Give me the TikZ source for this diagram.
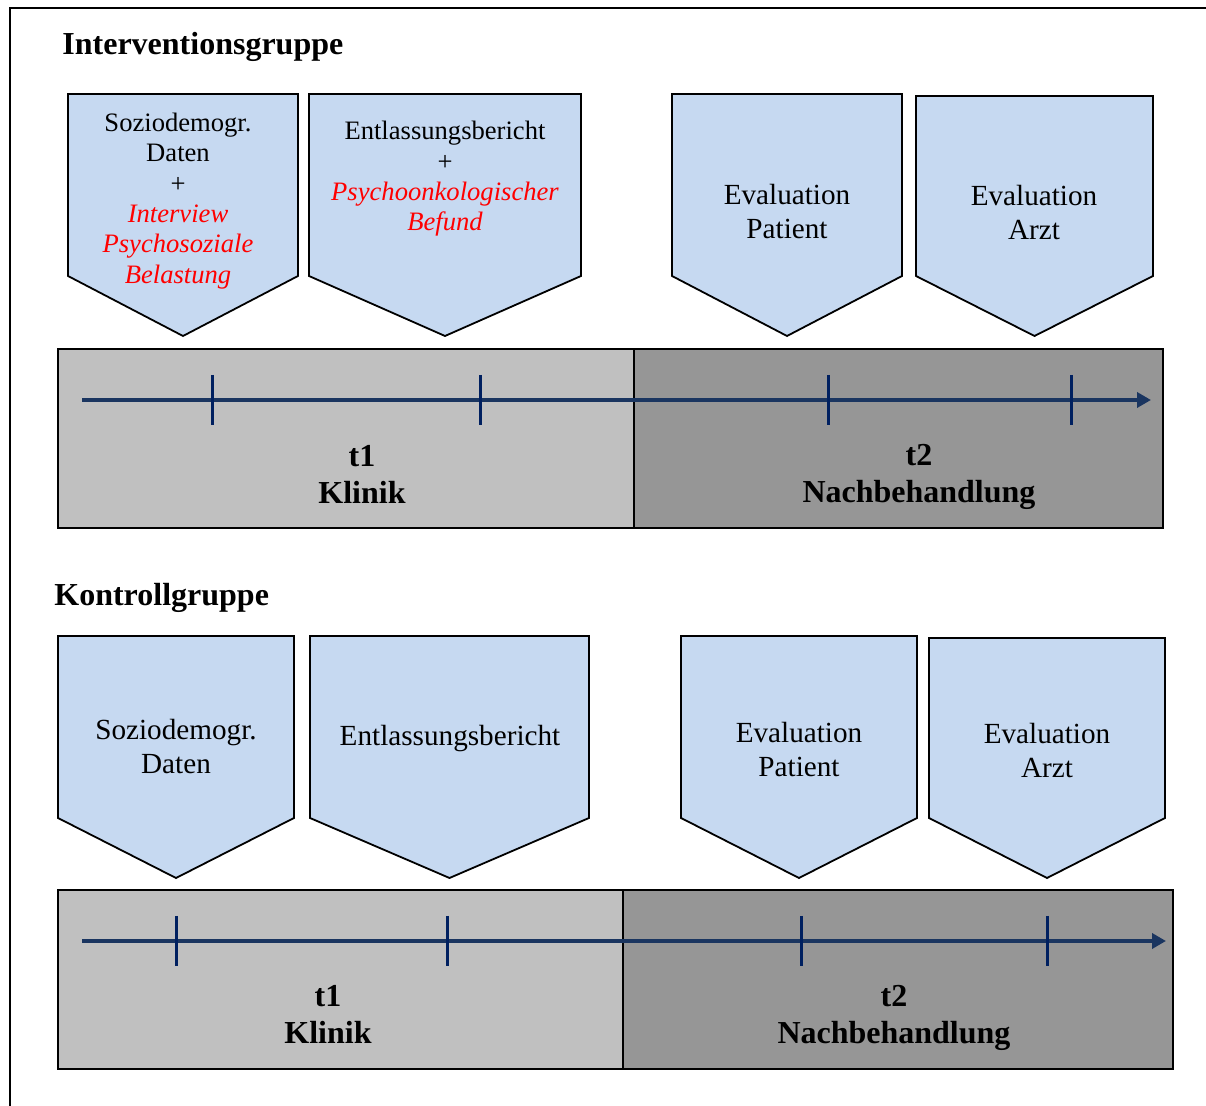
\documentclass[tikz,border=0pt]{standalone}
\usepackage{fontspec}
\setmainfont{Liberation Serif}
\usetikzlibrary{arrows.meta}

\definecolor{boxblue}{HTML}{C6D9F1}
\definecolor{klinikgray}{HTML}{C0C0C0}
\definecolor{nachgray}{HTML}{969696}
\definecolor{axisnavy}{HTML}{1A3560}
\definecolor{ticknavy}{HTML}{002060}
\definecolor{befundred}{HTML}{FF0000}

\tikzset{
  pentabox/.style={draw=black,fill=boxblue,line width=0.9pt,line join=miter},
  phasebox/.style={draw=black,line width=0.9pt},
  smalltxt/.style={align=center,font=\fontsize{13.3}{15.2}\selectfont,inner sep=0pt},
  largetxt/.style={align=center,font=\fontsize{14.6}{17}\selectfont,inner sep=0pt},
  phasetxt/.style={align=center,font=\fontsize{16}{18.5}\selectfont\bfseries,inner sep=0pt},
  grouptxt/.style={anchor=base west,font=\fontsize{16}{18}\selectfont\bfseries,inner sep=0pt},
  zeitachse/.style={draw=axisnavy,line width=2pt,-{Triangle[length=7pt,width=7.5pt]}},
  marke/.style={draw=ticknavy,line width=1.5pt}
}
\newcommand{\rot}[1]{\textcolor{befundred}{\itshape #1}}

\begin{document}
\begin{tikzpicture}[x=0.5pt,y=-0.5pt]
  \useasboundingbox (0,0) rectangle (1206,1106);
  % outer frame
  \draw[line width=1pt] (10,1106) -- (10,8) -- (1206,8);

  % headings
  \node[grouptxt] (igruppe) at (62,55) {Interventionsgruppe};
  \node[grouptxt] (kgruppe) at (54,606) {Kontrollgruppe};

  % pentagons, top row
  \foreach \xa/\xb/\yt in {68/298/94, 309/581/94, 672/902/94, 916/1153/96}{
      \filldraw[pentabox] (\xa,\yt) -- (\xb,\yt) -- (\xb,276) -- ({(\xa+\xb)/2},336) -- (\xa,276) -- cycle;
    }
  % pentagons, bottom row
  \foreach \xa/\xb/\yt in {58/294/636, 310/589/636, 681/917/636, 929/1165/638}{
      \filldraw[pentabox] (\xa,\yt) -- (\xb,\yt) -- (\xb,818) -- ({(\xa+\xb)/2},878) -- (\xa,818) -- cycle;
    }

  % texts, top row
  \node[smalltxt] (isozio) at (178,201) {Soziodemogr.\\Daten\\+\\\rot{Interview}\\\rot{Psychosoziale}\\\rot{Belastung}};
  \node[smalltxt] (ientl) at (445,179) {Entlassungsbericht\\+\\\rot{Psychoonkologischer}\\\rot{Befund}};
  \node[largetxt] (ievpat) at (787,212) {Evaluation\\Patient};
  \node[largetxt] (ievarzt) at (1034,213) {Evaluation\\Arzt};

  % texts, bottom row
  \node[largetxt] (ksozio) at (176,747) {Soziodemogr.\\Daten};
  \node[largetxt] (kentl) at (450,739) {Entlassungsbericht};
  \node[largetxt] (kevpat) at (799,750) {Evaluation\\Patient};
  \node[largetxt] (kevarzt) at (1047,751) {Evaluation\\Arzt};

  % timeline, Interventionsgruppe
  \filldraw[phasebox,fill=klinikgray] (58,349) rectangle (634,528);
  \filldraw[phasebox,fill=nachgray] (634,349) rectangle (1163,528);
  \coordinate (ia) at (82,400);
  \coordinate (ib) at (1151,400);
  \draw[zeitachse] (ia) -- (ib);
  \foreach \x in {212,480,828,1071}{
      \draw[marke] (\x,375) -- (\x,425);
    }
  \node[phasetxt] (iklinik) at (362,474) {t1\\Klinik};
  \node[phasetxt] (inach) at (919,477) {t2\\Nachbehandlung};

  % timeline, Kontrollgruppe
  \filldraw[phasebox,fill=klinikgray] (58,890) rectangle (623,1069);
  \filldraw[phasebox,fill=nachgray] (623,890) rectangle (1173,1069);
  \coordinate (ka) at (82,941);
  \coordinate (kb) at (1166,941);
  \draw[zeitachse] (ka) -- (kb);
  \foreach \x in {176,447,801,1047}{
      \draw[marke] (\x,916) -- (\x,966);
    }
  \node[phasetxt] (kklinik) at (328,1014) {t1\\Klinik};
  \node[phasetxt] (knach) at (894,1018) {t2\\Nachbehandlung};
\end{tikzpicture}
\end{document}
